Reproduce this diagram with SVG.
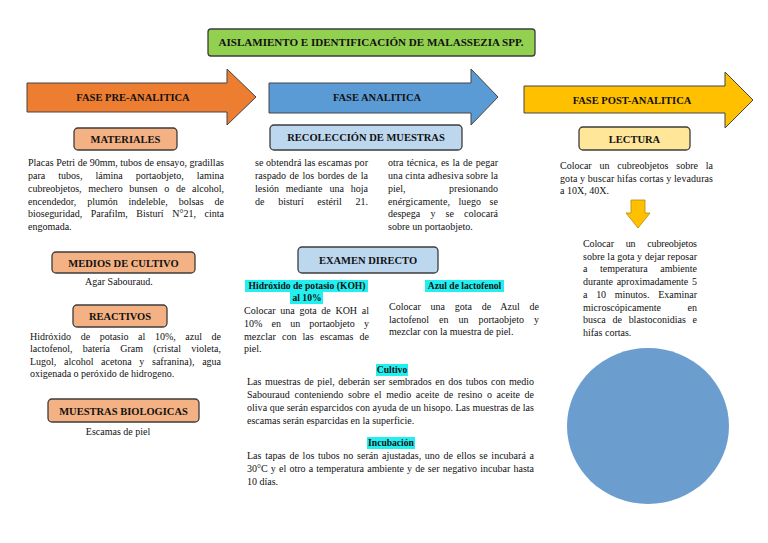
<svg xmlns="http://www.w3.org/2000/svg" width="768" height="543" viewBox="0 0 768 543">
<style>
text{font-family:"Liberation Serif","Times New Roman",serif;fill:#111}
.b{font-size:10px}
.h{font-size:10.5px;font-weight:bold;text-anchor:middle}
.s{font-size:9.6px;font-weight:bold;text-anchor:middle}
.c{text-anchor:middle}
.hl{fill:#22f0f0}
.box{stroke:#3c3c3c;stroke-width:1.3}
.arr{stroke:#444;stroke-width:1}
</style>
<rect x="0" y="0" width="768" height="543" fill="#fff"/>
<g id="title">
<rect x="208" y="29" width="327" height="27" rx="3" fill="#92d050" class="box"/>
<text x="371" y="46" class="h" font-size="10" textLength="305" lengthAdjust="spacingAndGlyphs">AISLAMIENTO E IDENTIFICACIÓN DE MALASSEZIA SPP.</text>
</g>
<g id="fase-pre">
<polygon points="27,83 227,83 227,69 256,97 227,125 227,112 27,112" fill="#ed7d31" class="arr"/>
<text x="133" y="101" class="h">FASE PRE-ANALITICA</text>
</g>
<g id="fase-ana">
<polygon points="269,83 471,83 471,69 498,97 471,125 471,113 269,113" fill="#5b9bd5" class="arr"/>
<text x="377" y="101" class="h">FASE ANALITICA</text>
</g>
<g id="fase-post">
<polygon points="524,86 725,86 725,72 753,100 725,128 725,113 524,113" fill="#ffc000" class="arr"/>
<text x="632" y="104" class="h">FASE POST-ANALITICA</text>
</g>
<g id="materiales">
<rect x="74" y="128" width="103" height="22" rx="4" fill="#f4b183" class="box"/>
<text x="125.5" y="143" class="h">MATERIALES</text>
<text class="b" x="28" y="166" textLength="196" lengthAdjust="spacing">Placas Petri de 90mm, tubos de ensayo, gradillas</text>
<text class="b" x="28" y="179" word-spacing="10.5" textLength="196" lengthAdjust="spacing">para tubos, lámina portaobjeto, lamina</text>
<text class="b" x="28" y="192" word-spacing="4.2" textLength="196" lengthAdjust="spacing">cubreobjetos, mechero bunsen o de alcohol,</text>
<text class="b" x="28" y="205" word-spacing="8.3" textLength="196" lengthAdjust="spacing">encendedor, plumón indeleble, bolsas de</text>
<text class="b" x="28" y="217" word-spacing="6.1" textLength="196" lengthAdjust="spacing">bioseguridad, Parafilm, Bisturí N°21, cinta</text>
<text class="b" x="28" y="230">engomada.</text>
</g>
<g id="medios">
<rect x="52" y="252" width="143" height="21" rx="4" fill="#f4b183" class="box"/>
<text x="123.5" y="266.5" class="h">MEDIOS DE CULTIVO</text>
<text class="b c" x="119" y="285">Agar Sabouraud.</text>
</g>
<g id="reactivos">
<rect x="73" y="305" width="94" height="22" rx="4" fill="#f4b183" class="box"/>
<text x="120" y="320" class="h">REACTIVOS</text>
<text class="b" x="30" y="340" word-spacing="7.1" textLength="191" lengthAdjust="spacing">Hidróxido de potasio al 10%, azul de</text>
<text class="b" x="30" y="352" word-spacing="7.7" textLength="191" lengthAdjust="spacing">lactofenol, batería Gram (cristal violeta,</text>
<text class="b" x="30" y="365" word-spacing="5.2" textLength="191" lengthAdjust="spacing">Lugol, alcohol acetona y safranina), agua</text>
<text class="b" x="30" y="377">oxigenada o peróxido de hidrogeno.</text>
</g>
<g id="muestras">
<rect x="48" y="399" width="151" height="23" rx="4" fill="#f4b183" class="box"/>
<text x="123.5" y="414.5" class="h">MUESTRAS BIOLOGICAS</text>
<text class="b c" x="118" y="435">Escamas de piel</text>
</g>
<g id="recoleccion">
<rect x="270" y="125" width="192" height="25" rx="4" fill="#bdd7ee" class="box"/>
<text x="366" y="141" class="h">RECOLECCIÓN DE MUESTRAS</text>
<text class="b" x="255" y="166" textLength="113" lengthAdjust="spacing">se obtendrá las escamas por</text>
<text class="b" x="255" y="179" word-spacing="1" textLength="113" lengthAdjust="spacing">raspado de los bordes de la</text>
<text class="b" x="255" y="192" word-spacing="4.4" textLength="113" lengthAdjust="spacing">lesión mediante una hoja</text>
<text class="b" x="255" y="205" word-spacing="11.2" textLength="113" lengthAdjust="spacing">de bisturí estéril 21.</text>
<text class="b" x="388" y="166" word-spacing="0.8" textLength="110" lengthAdjust="spacing">otra técnica, es la de pegar</text>
<text class="b" x="388" y="179" textLength="110" lengthAdjust="spacing">una cinta adhesiva sobre la</text>
<text class="b" x="388" y="192" word-spacing="41" textLength="110" lengthAdjust="spacing">piel, presionando</text>
<text class="b" x="388" y="205" word-spacing="5.8" textLength="110" lengthAdjust="spacing">enérgicamente, luego se</text>
<text class="b" x="388" y="217" word-spacing="7.7" textLength="110" lengthAdjust="spacing">despega y se colocará</text>
<text class="b" x="388" y="230">sobre un portaobjeto.</text>
</g>
<g id="examen">
<rect x="298" y="247" width="140" height="26" rx="4" fill="#bdd7ee" class="box"/>
<text x="368" y="264" class="h">EXAMEN DIRECTO</text>
<rect x="245" y="280" width="123" height="12" class="hl"/>
<rect x="290" y="292" width="33" height="12" class="hl"/>
<text x="307" y="289" class="s">Hidróxido de potasio (KOH)</text>
<text x="307" y="301" class="s">al 10%</text>
<text class="b" x="244" y="314" word-spacing="2.2" textLength="125" lengthAdjust="spacing">Colocar una gota de KOH al</text>
<text class="b" x="244" y="327" word-spacing="6.7" textLength="125" lengthAdjust="spacing">10% en un portaobjeto y</text>
<text class="b" x="244" y="340" word-spacing="3.7" textLength="125" lengthAdjust="spacing">mezclar con las escamas de</text>
<text class="b" x="244" y="352">piel.</text>
<rect x="425" y="280" width="79" height="12" class="hl"/>
<text x="464.5" y="289" class="s">Azul de lactofenol</text>
<text class="b" x="389" y="310" word-spacing="7.2" textLength="150" lengthAdjust="spacing">Colocar una gota de Azul de</text>
<text class="b" x="389" y="323" word-spacing="7.5" textLength="150" lengthAdjust="spacing">lactofenol en un portaobjeto y</text>
<text class="b" x="389" y="335">mezclar con la muestra de piel.</text>
</g>
<g id="cultivo">
<rect x="376" y="364" width="32" height="12" class="hl"/>
<text x="392" y="373" class="s">Cultivo</text>
<text class="b" x="247" y="385" word-spacing="1.1" textLength="287" lengthAdjust="spacing">Las muestras de piel, deberán ser sembrados en dos tubos con medio</text>
<text class="b" x="247" y="398" word-spacing="2.1" textLength="287" lengthAdjust="spacing">Sabouraud conteniendo sobre el medio aceite de resino o aceite de</text>
<text class="b" x="247" y="411" textLength="287" lengthAdjust="spacing">oliva que serán esparcidos con ayuda de un hisopo. Las muestras de las</text>
<text class="b" x="247" y="424">escamas serán esparcidas en la superficie.</text>
</g>
<g id="incubacion">
<rect x="367" y="437" width="48" height="12" class="hl"/>
<text x="391" y="446" class="s">Incubación</text>
<text class="b" x="247" y="459" word-spacing="1.2" textLength="287" lengthAdjust="spacing">Las tapas de los tubos no serán ajustadas, uno de ellos se incubará a</text>
<text class="b" x="247" y="472" word-spacing="0.7" textLength="287" lengthAdjust="spacing">30°C y el otro a temperatura ambiente y de ser negativo incubar hasta</text>
<text class="b" x="247" y="485">10 días.</text>
</g>
<g id="lectura">
<rect x="579" y="127" width="111" height="23" rx="4" fill="#ffe699" class="box"/>
<text x="634.5" y="142.5" class="h">LECTURA</text>
<text class="b" x="560" y="169" word-spacing="5.3" textLength="153" lengthAdjust="spacing">Colocar un cubreobjetos sobre la</text>
<text class="b" x="560" y="182" textLength="153" lengthAdjust="spacing">gota y buscar hifas cortas y levaduras</text>
<text class="b" x="560" y="194">a 10X, 40X.</text>
</g>
<g id="connectors">
<polygon points="631,200 645,200 645,213 650,213 638,228 626,213 631,213" fill="#ffc000" stroke="#b8860b" stroke-width="0.8"/>
</g>
<g id="reposo">
<text class="b" x="583" y="247" word-spacing="9.4" textLength="114" lengthAdjust="spacing">Colocar un cubreobjetos</text>
<text class="b" x="583" y="260" textLength="114" lengthAdjust="spacing">sobre la gota y dejar reposar</text>
<text class="b" x="583" y="272" word-spacing="10" textLength="114" lengthAdjust="spacing">a temperatura ambiente</text>
<text class="b" x="583" y="285" word-spacing="1.2" textLength="114" lengthAdjust="spacing">durante aproximadamente 5</text>
<text class="b" x="583" y="298" word-spacing="6.2" textLength="114" lengthAdjust="spacing">a 10 minutos. Examinar</text>
<text class="b" x="583" y="311" word-spacing="24" textLength="114" lengthAdjust="spacing">microscópicamente en</text>
<text class="b" x="583" y="323" word-spacing="4.2" textLength="114" lengthAdjust="spacing">busca de blastoconidias e</text>
<text class="b" x="583" y="336">hifas cortas.</text>
</g>
<g id="circulo">
<ellipse cx="648" cy="426" rx="81" ry="78" fill="#6c9dcf"/>
</g>
</svg>
